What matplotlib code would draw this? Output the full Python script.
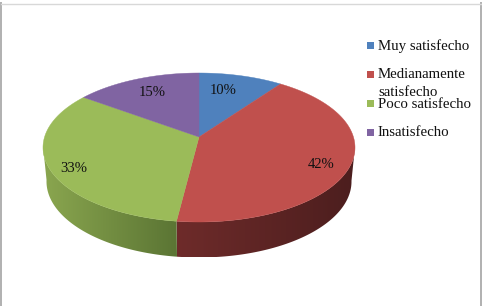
import numpy as np
import matplotlib
matplotlib.use("Agg")
import matplotlib.pyplot as plt
from matplotlib.patches import Polygon, Rectangle

categorias = ["Muy satisfecho", "Medianamente", "Poco satisfecho", "Insatisfecho"]
valores = [10, 42, 33, 15]
colores = ["#4f81bd", "#c0504d", "#9bbb59", "#8064a2"]
lado_claro = ["#4f81bd", "#6e2b2a", "#8aa64f", "#8064a2"]
lado_oscuro = ["#4f81bd", "#4c1e1e", "#5b7534", "#8064a2"]

plt.rcParams["font.family"] = ["Liberation Serif", "DejaVu Serif"]

fig = plt.figure(figsize=(4.82, 3.06), dpi=100)
ax = fig.add_axes([0, 0, 1, 1])
ax.set_xlim(0, 482)
ax.set_ylim(306, 0)
ax.axis("off")

# elipse de arriba y de abajo del pastel
cx, cy, rx, ry = 199, 147.5, 156, 74.5
cx2, cy2, rx2, ry2 = 199, 181.5, 152.5, 76
pers = 0.141


def borde(ang):
    # angulo en grados desde arriba, sentido horario, con perspectiva
    a = np.radians(ang)
    x, y = np.sin(a), np.cos(a)
    xp = x * np.sqrt(1 - pers ** 2) / (1 + pers * y)
    yp = (y + pers) / (1 + pers * y)
    return xp, yp


cortes = np.concatenate([[0], np.cumsum(valores)]) * 3.6
centro = (cx, cy - pers * ry)

# lados del pastel, solo lo que queda al frente
for i in range(len(valores)):
    angs = np.linspace(cortes[i], cortes[i + 1], 200)
    u, v = borde(angs)
    frente = v <= 0.02
    if frente.sum() < 2:
        continue
    u, v = u[frente], v[frente]
    arriba = np.column_stack([cx + rx * u, cy - ry * v])
    abajo = np.column_stack([cx2 + rx2 * u, cy2 - ry2 * v])
    pts = np.vstack([arriba, abajo[::-1]])
    x0, x1 = pts[:, 0].min(), pts[:, 0].max()
    c1 = np.array(matplotlib.colors.to_rgb(lado_claro[i]))
    c2 = np.array(matplotlib.colors.to_rgb(lado_oscuro[i]))
    t = np.linspace(0, 1, 128)[None, :, None]
    grad = c1 * (1 - t) + c2 * t
    im = ax.imshow(grad, extent=[x0, x1, pts[:, 1].max(), pts[:, 1].min()], aspect="auto", zorder=1)
    poly = Polygon(pts, closed=True, fc="none", ec="none")
    ax.add_patch(poly)
    im.set_clip_path(poly)

ax.set_xlim(0, 482)
ax.set_ylim(306, 0)

# cara de arriba
for i in range(len(valores)):
    angs = np.linspace(cortes[i], cortes[i + 1], 200)
    u, v = borde(angs)
    pts = np.column_stack([cx + rx * u, cy - ry * v])
    pts = np.vstack([centro, pts])
    ax.add_patch(Polygon(pts, closed=True, fc=colores[i], ec=colores[i], lw=0.3, zorder=2))

# porcentajes
pos_etq = [(223, 90), (321, 165), (74, 169), (152, 92)]
for val, (x, y) in zip(valores, pos_etq):
    ax.text(x, y, f"{val}%", ha="center", va="center", fontsize=10.5, color="#111111", zorder=3)

# leyenda
ley_y = [45.5, 74.5, 103.5, 132.5]
for nombre, col, y in zip(categorias, colores, ley_y):
    ax.add_patch(Rectangle((367, y - 3.5), 7, 7, fc=col, ec="none", zorder=3))
    ax.text(378, y + 0.5, nombre, ha="left", va="center", fontsize=10.7, color="#111111", zorder=3)
ax.text(378, 92, "satisfecho", ha="left", va="center", fontsize=10.7, color="#111111", zorder=3)

# marco: arriba, izquierda y derecha
ax.plot([1, 1], [3, 306], color="#b0b0b0", lw=1.4, zorder=4)
ax.plot([480.5, 480.5], [3, 306], color="#b0b0b0", lw=1.4, zorder=4)
ax.plot([1, 481], [3.5, 3.5], color="#d8d8d8", lw=1, zorder=4)

fig.savefig("out.png", dpi=100)
